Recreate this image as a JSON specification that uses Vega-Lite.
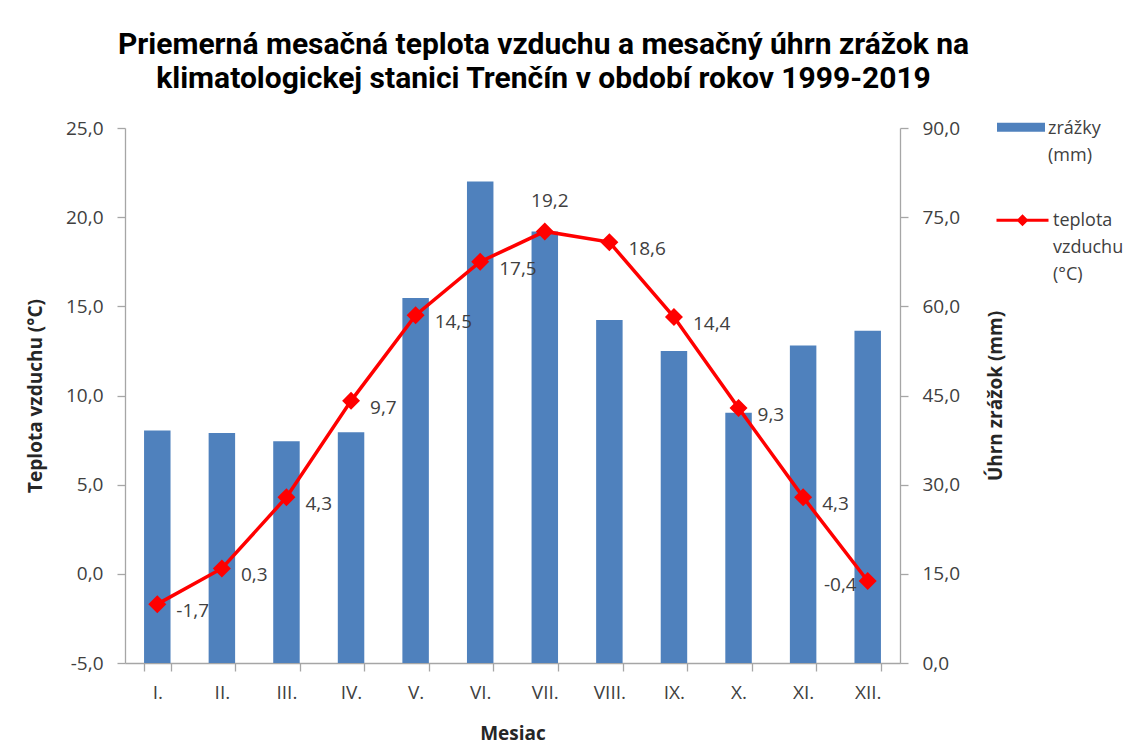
{
  "$schema": "https://vega.github.io/schema/vega-lite/v6.json",
  "autosize": {"type": "none"},
  "width": 775,
  "height": 535,
  "padding": {"left": 125, "top": 128, "right": 243, "bottom": 90},
  "background": "white",
  "title": {
    "text": ["Priemerná mesačná teplota vzduchu a mesačný úhrn zrážok na", "klimatologickej stanici Trenčín v období rokov 1999-2019"],
    "anchor": "middle",
    "dx": 31,
    "offset": 16,
    "font": "Roboto",
    "fontSize": 30,
    "fontWeight": "bold",
    "lineHeight": 34,
    "color": "#000000"
  },
  "config": {
    "locale": {"number": {"decimal": ",", "thousands": " ", "grouping": [3], "currency": ["", ""], "minus": "-"}},
    "view": {"stroke": null},
    "font": "Open Sans",
    "style": {"guide-label": {"lineHeight": 27}},
    "axis": {
      "grid": false,
      "domainColor": "#A6A6A6",
      "tickColor": "#A6A6A6",
      "domainWidth": 1.3,
      "tickWidth": 1.3,
      "tickSize": 8,
      "labelColor": "#404040",
      "labelFont": "Open Sans",
      "labelFontSize": 19,
      "titleFont": "Open Sans",
      "titleFontSize": 19,
      "titleFontWeight": "bold",
      "titleColor": "#262626"
    },
    "legend": {
      "padding": 0,
      "labelFont": "Open Sans",
      "labelFontSize": 18,
      "labelColor": "#404040",
      "labelBaseline": "alphabetic",
      "labelLimit": 300,
      "labelOffset": 3
    }
  },
  "data": {
    "values": [
      {"mesiac": "I.", "teplota": -1.7, "zrazky": 39.1},
      {"mesiac": "II.", "teplota": 0.3, "zrazky": 38.7},
      {"mesiac": "III.", "teplota": 4.3, "zrazky": 37.3},
      {"mesiac": "IV.", "teplota": 9.7, "zrazky": 38.8},
      {"mesiac": "V.", "teplota": 14.5, "zrazky": 61.4},
      {"mesiac": "VI.", "teplota": 17.5, "zrazky": 81.0},
      {"mesiac": "VII.", "teplota": 19.2, "zrazky": 72.6},
      {"mesiac": "VIII.", "teplota": 18.6, "zrazky": 57.7},
      {"mesiac": "IX.", "teplota": 14.4, "zrazky": 52.5},
      {"mesiac": "X.", "teplota": 9.3, "zrazky": 42.1},
      {"mesiac": "XI.", "teplota": 4.3, "zrazky": 53.4},
      {"mesiac": "XII.", "teplota": -0.4, "zrazky": 55.9}
    ]
  },
  "encoding": {
    "x": {
      "field": "mesiac",
      "type": "ordinal",
      "sort": null,
      "scale": {"paddingInner": 0.59, "paddingOuter": 0.295},
      "axis": {"title": "Mesiac", "labelAngle": 0, "tickBand": "extent", "labelPadding": 12, "titlePadding": 22}
    }
  },
  "layer": [
    {
      "mark": {"type": "bar", "color": "#4F81BD"},
      "encoding": {
        "y": {
          "field": "zrazky",
          "type": "quantitative",
          "scale": {"domain": [0, 90]},
          "axis": {"orient": "right", "title": "Úhrn zrážok (mm)", "values": [0, 15, 30, 45, 60, 75, 90], "format": ".1f", "titleAngle": 270, "labelPadding": 14, "titlePadding": 46}
        },
        "fill": {
          "datum": "zrážky (mm)",
          "scale": {"range": ["#4F81BD"]},
          "legend": {
            "title": null,
            "orient": "none",
            "legendX": 872,
            "legendY": -18,
            "symbolType": "M-1,-0.47H1V-0.09H-1Z",
            "symbolSize": 2304,
            "symbolStrokeWidth": 0,
            "labelExpr": "['zrážky', '(mm)']"
          }
        }
      }
    },
    {
      "encoding": {
        "y": {
          "field": "teplota",
          "type": "quantitative",
          "scale": {"domain": [-5, 25]},
          "axis": {"orient": "left", "title": "Teplota vzduchu (°C)", "values": [-5, 0, 5, 10, 15, 20, 25], "format": ".1f", "labelPadding": 14, "titlePadding": 20}
        }
      },
      "layer": [
        {
          "mark": {"type": "line", "strokeWidth": 3.5, "point": {"filled": true, "shape": "diamond", "size": 230, "color": "#FF0000"}},
          "encoding": {
            "stroke": {
              "datum": "teplota vzduchu (°C)",
              "scale": {"range": ["#FF0000"]},
              "legend": {
                "title": null,
                "orient": "none",
                "legendX": 870,
                "legendY": 70,
                "symbolType": "M-1,-0.2H1M-0.15,-0.2L0,-0.35L0.15,-0.2L0,-0.05Z",
                "symbolSize": 2704,
                "symbolStrokeWidth": 3,
                "symbolFillColor": "#FF0000",
                "labelExpr": "['teplota', 'vzduchu', '(°C)']"
              }
            }
          }
        },
        {
          "transform": [{"filter": "datum.mesiac != 'VII.' && datum.mesiac != 'XII.'"}],
          "mark": {"type": "text", "align": "left", "baseline": "middle", "dx": 19, "dy": 7, "fontSize": 19, "color": "#404040"},
          "encoding": {"text": {"field": "teplota", "type": "quantitative", "format": ".1f"}}
        },
        {
          "transform": [{"filter": "datum.mesiac == 'VII.'"}],
          "mark": {"type": "text", "align": "center", "baseline": "middle", "dx": 5, "dy": -30, "fontSize": 19, "color": "#404040"},
          "encoding": {"text": {"field": "teplota", "type": "quantitative", "format": ".1f"}}
        },
        {
          "transform": [{"filter": "datum.mesiac == 'XII.'"}],
          "mark": {"type": "text", "align": "right", "baseline": "middle", "dx": -11, "dy": 4, "fontSize": 19, "color": "#404040"},
          "encoding": {"text": {"field": "teplota", "type": "quantitative", "format": ".1f"}}
        }
      ]
    }
  ],
  "resolve": {"scale": {"y": "independent", "fill": "independent", "stroke": "independent"}}
}
